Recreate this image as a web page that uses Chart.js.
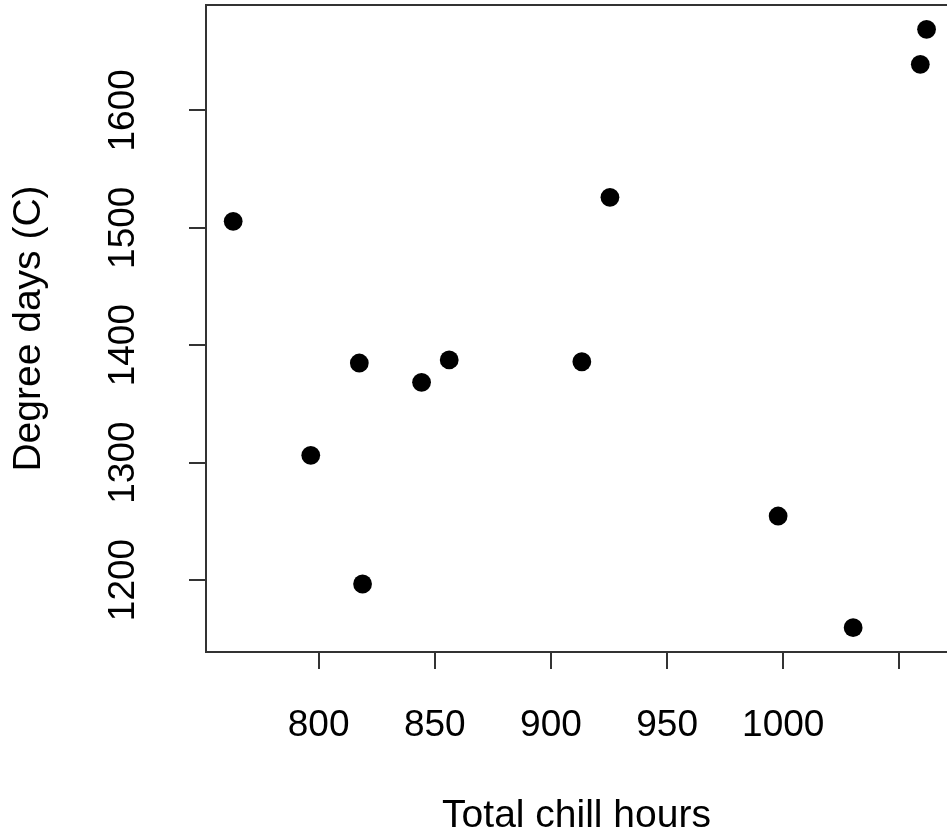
<!DOCTYPE html>
<html>
<head>
<meta charset="utf-8">
<script src="https://cdn.jsdelivr.net/npm/chart.js@4/dist/chart.umd.min.js"></script>
<style>
  html, body { margin: 0; padding: 0; background: #ffffff; overflow: hidden; }
  canvas { display: block; }
</style>
</head>
<body>
<canvas id="c" width="947" height="837"></canvas>
<script>
// Data
const chillHours = [763.2, 796.6, 817.5, 818.9, 844.3, 856.2, 913.3, 925.4, 997.8, 1030.1, 1059.0, 1061.7];
const degreeDays = [1505.5, 1306.2, 1384.8, 1196.6, 1368.4, 1387.4, 1385.9, 1525.9, 1254.5, 1159.4, 1639.2, 1669.0];

const xTickValues = [800, 850, 900, 950, 1000, 1050];
const xTickLabels = ['800', '850', '900', '950', '1000', ''];
const yTickValues = [1200, 1300, 1400, 1500, 1600];
const yTickLabels = ['1200', '1300', '1400', '1500', '1600'];

const xTitle = 'Total chill hours';
const yTitle = 'Degree days (C)';

const points = chillHours.map((x, i) => ({ x: x, y: degreeDays[i] }));

const FONT = '"Liberation Sans", Arial, Helvetica, sans-serif';
const LINE = '#333333';

const boxPlugin = {
  id: 'rbox',
  afterDraw(chart) {
    const { ctx, chartArea: a } = chart;
    ctx.save();
    ctx.strokeStyle = LINE;
    ctx.lineWidth = 2;
    ctx.beginPath();
    ctx.moveTo(a.right + 2, a.top);
    ctx.lineTo(a.left, a.top);
    ctx.lineTo(a.left, a.bottom);
    ctx.lineTo(a.right + 2, a.bottom);
    ctx.stroke();
    ctx.restore();
  }
};

function zeroPad(s) {
  s.paddingTop = 0; s.paddingBottom = 0; s.paddingLeft = 0; s.paddingRight = 0;
}

new Chart(document.getElementById('c'), {
  type: 'scatter',
  data: {
    datasets: [{
      data: points,
      backgroundColor: '#000000',
      borderWidth: 0,
      pointRadius: 9.4,
      pointHoverRadius: 9.4
    }]
  },
  options: {
    responsive: false,
    devicePixelRatio: 1,
    animation: false,
    events: [],
    layout: { autoPadding: false, padding: { top: 5, left: 0, right: 0, bottom: 0 } },
    plugins: {
      legend: { display: false },
      tooltip: { enabled: false },
      title: { display: false }
    },
    scales: {
      x: {
        type: 'linear',
        position: 'bottom',
        min: 751.5,
        max: 1070.5,
        afterBuildTicks: (s) => { s.ticks = xTickValues.map(v => ({ value: v })); },
        afterFit: (s) => { s.height = 185; zeroPad(s); },
        grid: {
          drawOnChartArea: false,
          drawTicks: true,
          tickLength: 17,
          tickWidth: 2,
          tickColor: LINE,
          color: LINE,
          lineWidth: 2
        },
        border: { display: false },
        ticks: {
          autoSkip: false,
          maxRotation: 0,
          minRotation: 0,
          padding: 35,
          color: '#000000',
          font: { family: FONT, size: 37, lineHeight: 1.2 },
          callback: (value, index) => xTickLabels[index]
        },
        title: {
          display: true,
          text: xTitle,
          color: '#000000',
          font: { family: FONT, size: 39, lineHeight: 1 },
          padding: { top: 0, bottom: 1 }
        }
      },
      y: {
        type: 'linear',
        position: 'left',
        min: 1138.7,
        max: 1689.7,
        afterBuildTicks: (s) => { s.ticks = yTickValues.map(v => ({ value: v })); },
        afterFit: (s) => { s.width = 206; zeroPad(s); },
        grid: {
          drawOnChartArea: false,
          drawTicks: true,
          tickLength: 17,
          tickWidth: 2,
          tickColor: LINE,
          color: LINE,
          lineWidth: 2
        },
        border: { display: false },
        ticks: {
          autoSkip: false,
          minRotation: 90,
          maxRotation: 90,
          crossAlign: 'center',
          padding: 24,
          color: '#000000',
          font: { family: FONT, size: 37, lineHeight: 1.2 },
          callback: (value, index) => yTickLabels[index]
        },
        title: {
          display: true,
          text: yTitle,
          color: '#000000',
          font: { family: FONT, size: 39, lineHeight: 1 },
          padding: { top: 10, bottom: 0 }
        }
      }
    }
  },
  plugins: [boxPlugin]
});
</script>
</body>
</html>
